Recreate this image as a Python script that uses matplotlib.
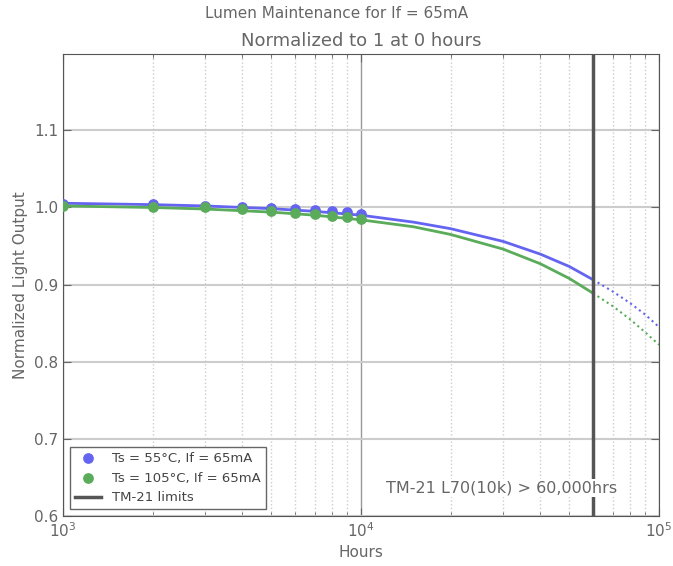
import numpy as np
import matplotlib
matplotlib.use('Agg')
import matplotlib.pyplot as plt

# measured points (hours, normalized output)
hrs_pts = [1000, 2000, 3000, 4000, 5000, 6000, 7000, 8000, 9000, 10000]
ts55_pts = [1.005, 1.004, 1.002, 1.001, 0.999, 0.998, 0.997, 0.995, 0.994, 0.992]
ts105_pts = [1.002, 1.001, 1.000, 0.998, 0.995, 0.993, 0.991, 0.989, 0.988, 0.985]

# fitted curves (solid up to 60k, dotted beyond)
hrs_fit = [1000, 2000, 3000, 5000, 7000, 10000, 15000, 20000, 30000, 40000, 50000, 60000]
ts55_fit = [1.0055, 1.0037, 1.002, 0.9985, 0.995, 0.990, 0.981, 0.9725, 0.956, 0.9395, 0.9235, 0.9065]
ts105_fit = [1.002, 1.0, 0.998, 0.994, 0.990, 0.984, 0.975, 0.965, 0.946, 0.927, 0.908, 0.889]
hrs_ext = [60000, 70000, 80000, 90000, 100000]
ts55_ext = [0.9065, 0.891, 0.876, 0.861, 0.845]
ts105_ext = [0.889, 0.872, 0.855, 0.838, 0.822]

tm21_limit = 60000

blue = '#6464f0'
green = '#5aac5a'
gray = '#666666'

plt.rcParams['font.family'] = 'DejaVu Sans'
fig = plt.figure(figsize=(6.73, 5.66), dpi=100)
ax = fig.add_axes([63/673, 1-516/566, 596/673, 462/566])

ax.plot(hrs_fit, ts55_fit, color=blue, lw=2)
ax.plot(hrs_fit, ts105_fit, color=green, lw=2)
ax.plot(hrs_ext, ts55_ext, color=blue, lw=1.5, ls=':')
ax.plot(hrs_ext, ts105_ext, color=green, lw=1.5, ls=':')
ax.scatter(hrs_pts, ts55_pts, s=45, color=blue, zorder=3, label='Ts = 55°C, If = 65mA')
ax.scatter(hrs_pts, ts105_pts, s=45, color=green, zorder=3, label='Ts = 105°C, If = 65mA')
ax.axvline(tm21_limit, color='#555555', lw=2.5, label='TM-21 limits', zorder=2)

ax.set_xscale('log')
ax.set_xlim(1000, 100000)
ax.set_ylim(0.6, 1.199)
ax.set_yticks([0.6, 0.7, 0.8, 0.9, 1.0, 1.1])

ax.grid(True, which='major', axis='y', color='#cccccc', ls='-', lw=1.5, zorder=0)
ax.grid(True, which='major', axis='x', color='#999999', ls='-', lw=1, zorder=0)
ax.grid(True, which='minor', axis='x', color='#cccccc', ls=':', lw=1, zorder=0)
ax.set_axisbelow(True)

ax.tick_params(which='both', direction='in', top=True, right=True, colors=gray, labelsize=11)
ax.tick_params(which='major', length=6)
ax.tick_params(which='minor', length=3)
for s in ax.spines.values():
    s.set_color('#555555')

ax.set_xlabel('Hours', color=gray, fontsize=11)
ax.set_ylabel('Normalized Light Output', color=gray, fontsize=11)
ax.set_title('Normalized to 1 at 0 hours', color=gray, fontsize=13)
fig.suptitle('Lumen Maintenance for If = 65mA', color=gray, fontsize=11, y=0.99)

ax.text(0.93, 0.045, 'TM-21 L70(10k) > 60,000hrs', transform=ax.transAxes, ha='right',
        va='bottom', color=gray, fontsize=11.5,
        bbox=dict(facecolor='white', edgecolor='none', pad=1))

leg = ax.legend(loc='lower left', scatterpoints=1, fontsize=9.5, fancybox=False, framealpha=1)
leg.get_frame().set_edgecolor(gray)
for t in leg.get_texts():
    t.set_color('#444444')

fig.savefig('out.png', dpi=100)
